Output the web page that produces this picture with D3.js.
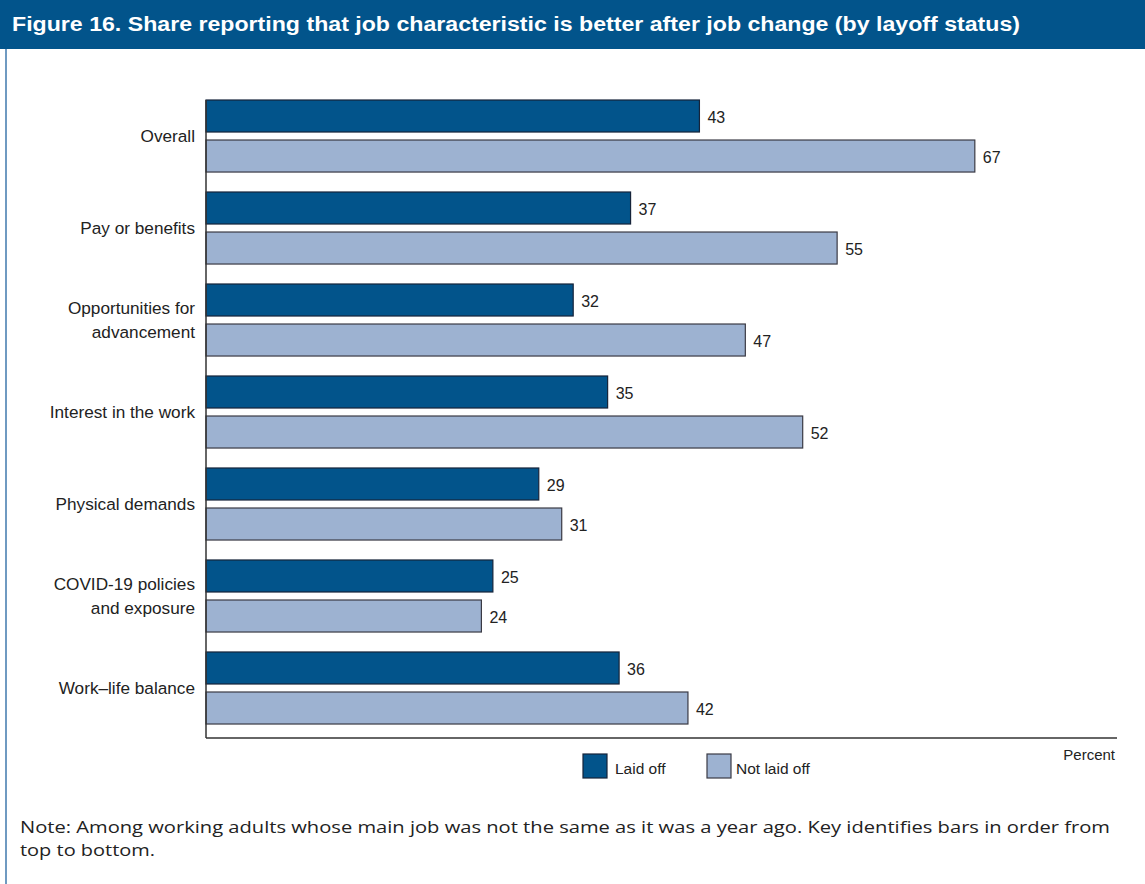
<!DOCTYPE html>
<html>
<head>
<meta charset="utf-8">
<script src="https://cdn.jsdelivr.net/npm/d3@7"></script>
<style>
  html, body { margin: 0; padding: 0; background: #fff; }
  svg { display: block; }
</style>
</head>
<body>
<svg id="chart" width="1145" height="884"></svg>
<script>
// ---- Data ----
const categories = ["Overall", "Pay or benefits", "Opportunities for advancement", "Interest in the work", "Physical demands", "COVID-19 policies and exposure", "Work–life balance"];
const categoryLines = [["Overall"], ["Pay or benefits"], ["Opportunities for", "advancement"], ["Interest in the work"], ["Physical demands"], ["COVID-19 policies", "and exposure"], ["Work–life balance"]];
const seriesNames = ["Laid off", "Not laid off"];
const laidOff = [43, 37, 32, 35, 29, 25, 36];
const notLaidOff = [67, 55, 47, 52, 31, 24, 42];
const titleText = "Figure 16. Share reporting that job characteristic is better after job change (by layoff status)";
const noteLines = ["Note: Among working adults whose main job was not the same as it was a year ago. Key identifies bars in order from", "top to bottom."];
const axisLabel = "Percent";

// ---- Styles ----
const darkBlue = "#02548b";
const lightBlue = "#9db2d1";
const textColor = "#222";
const font = "'Liberation Sans', Arial, sans-serif";
const noteFont = "'Open Sans', 'DejaVu Sans', sans-serif";

const svg = d3.select("#chart");

// Header band
svg.append("rect").attr("x", 0).attr("y", 0).attr("width", 1145).attr("height", 49).attr("fill", "#02548b");
svg.append("text")
  .attr("x", 12).attr("y", 31)
  .attr("fill", "#fff").attr("font-family", font).attr("font-weight", "bold").attr("font-size", 19.5)
  .attr("textLength", 1008).attr("lengthAdjust", "spacingAndGlyphs")
  .text(titleText);

// Frame left border
svg.append("line").attr("x1", 6).attr("x2", 6).attr("y1", 49).attr("y2", 884)
  .attr("stroke", "#3f79ad").attr("stroke-width", 1.5);

// ---- Scales ----
const x = d3.scaleLinear().domain([0, 80]).range([206, 1124]);
const y = d3.scaleBand().domain(categories).range([100, 738]).paddingInner(0.217).paddingOuter(0.076).align(0);
const ySub = d3.scaleBand().domain(seriesNames).range([0, y.bandwidth()]).paddingInner(0.2);

const rows = categories.map((c, i) => ({ cat: c, lines: categoryLines[i], vals: [laidOff[i], notLaidOff[i]] }));

const g = svg.append("g");
const groups = g.selectAll("g.grp").data(rows).join("g").attr("class", "grp")
  .attr("transform", d => `translate(0,${y(d.cat)})`);

groups.selectAll("rect").data(d => d.vals.map((v, k) => ({ v, s: seriesNames[k], k })))
  .join("rect")
  .attr("x", x(0))
  .attr("y", d => ySub(d.s))
  .attr("width", d => x(d.v) - x(0))
  .attr("height", ySub.bandwidth())
  .attr("fill", d => d.k === 0 ? darkBlue : lightBlue)
  .attr("stroke", d => d.k === 0 ? "#16243a" : "#3a3a44")
  .attr("stroke-width", 1.2);

groups.selectAll("text.val").data(d => d.vals.map((v, k) => ({ v, s: seriesNames[k] })))
  .join("text").attr("class", "val")
  .attr("x", d => x(d.v) + 8)
  .attr("y", d => ySub(d.s) + ySub.bandwidth() / 2 + 1)
  .attr("dy", "0.36em")
  .attr("font-family", font).attr("font-size", 16).attr("fill", textColor)
  .text(d => d.v);

// Category labels
groups.each(function(d) {
  const n = d.lines.length;
  const t = d3.select(this).append("text")
    .attr("text-anchor", "end")
    .attr("font-family", font).attr("font-size", 17.2).attr("fill", textColor);
  d.lines.forEach((ln, i) => {
    t.append("tspan").attr("x", 195)
      .attr("y", y.bandwidth() / 2 + (i - (n - 1) / 2) * 24)
      .attr("dy", "0.36em")
      .text(ln);
  });
});

// Axes lines
const yAxis = d3.axisLeft(y).tickSize(0).tickFormat("");
svg.append("g").attr("transform", `translate(${x(0)},0)`).call(yAxis)
  .call(s => s.select(".domain").attr("stroke", "#333").attr("stroke-width", 1.5).attr("d", "M0,100V738"));
const xAxis = d3.axisBottom(x).tickValues([]).tickSize(0);
svg.append("g").attr("transform", "translate(0,738)").call(xAxis)
  .call(s => s.select(".domain").attr("stroke", "#333").attr("stroke-width", 1.5).attr("d", `M${x(0)},0H1117`));

svg.append("text").attr("x", 1115).attr("y", 760).attr("text-anchor", "end")
  .attr("font-family", font).attr("font-size", 15).attr("fill", textColor).text(axisLabel);

// Legend
const legendX = [583, 707];
const leg = svg.append("g").selectAll("g").data(seriesNames).join("g")
  .attr("transform", (d, i) => `translate(${legendX[i]},754)`);
leg.append("rect").attr("width", 24).attr("height", 24)
  .attr("fill", (d, i) => i === 0 ? darkBlue : lightBlue)
  .attr("stroke", (d, i) => i === 0 ? "#16243a" : "#3a3a44").attr("stroke-width", 1.2);
leg.append("text").attr("x", (d, i) => i === 0 ? 32 : 29).attr("y", 20)
  .attr("font-family", font).attr("font-size", 15.5).attr("fill", textColor).text(d => d);

// Note
const noteWidths = [1090, 135];
noteLines.forEach((ln, i) => {
  svg.append("text").attr("x", 20).attr("y", 833 + i * 23)
    .attr("font-family", noteFont).attr("font-size", 16.5).attr("fill", textColor)
    .attr("textLength", noteWidths[i]).attr("lengthAdjust", "spacingAndGlyphs")
    .text(ln);
});
</script>
</body>
</html>
